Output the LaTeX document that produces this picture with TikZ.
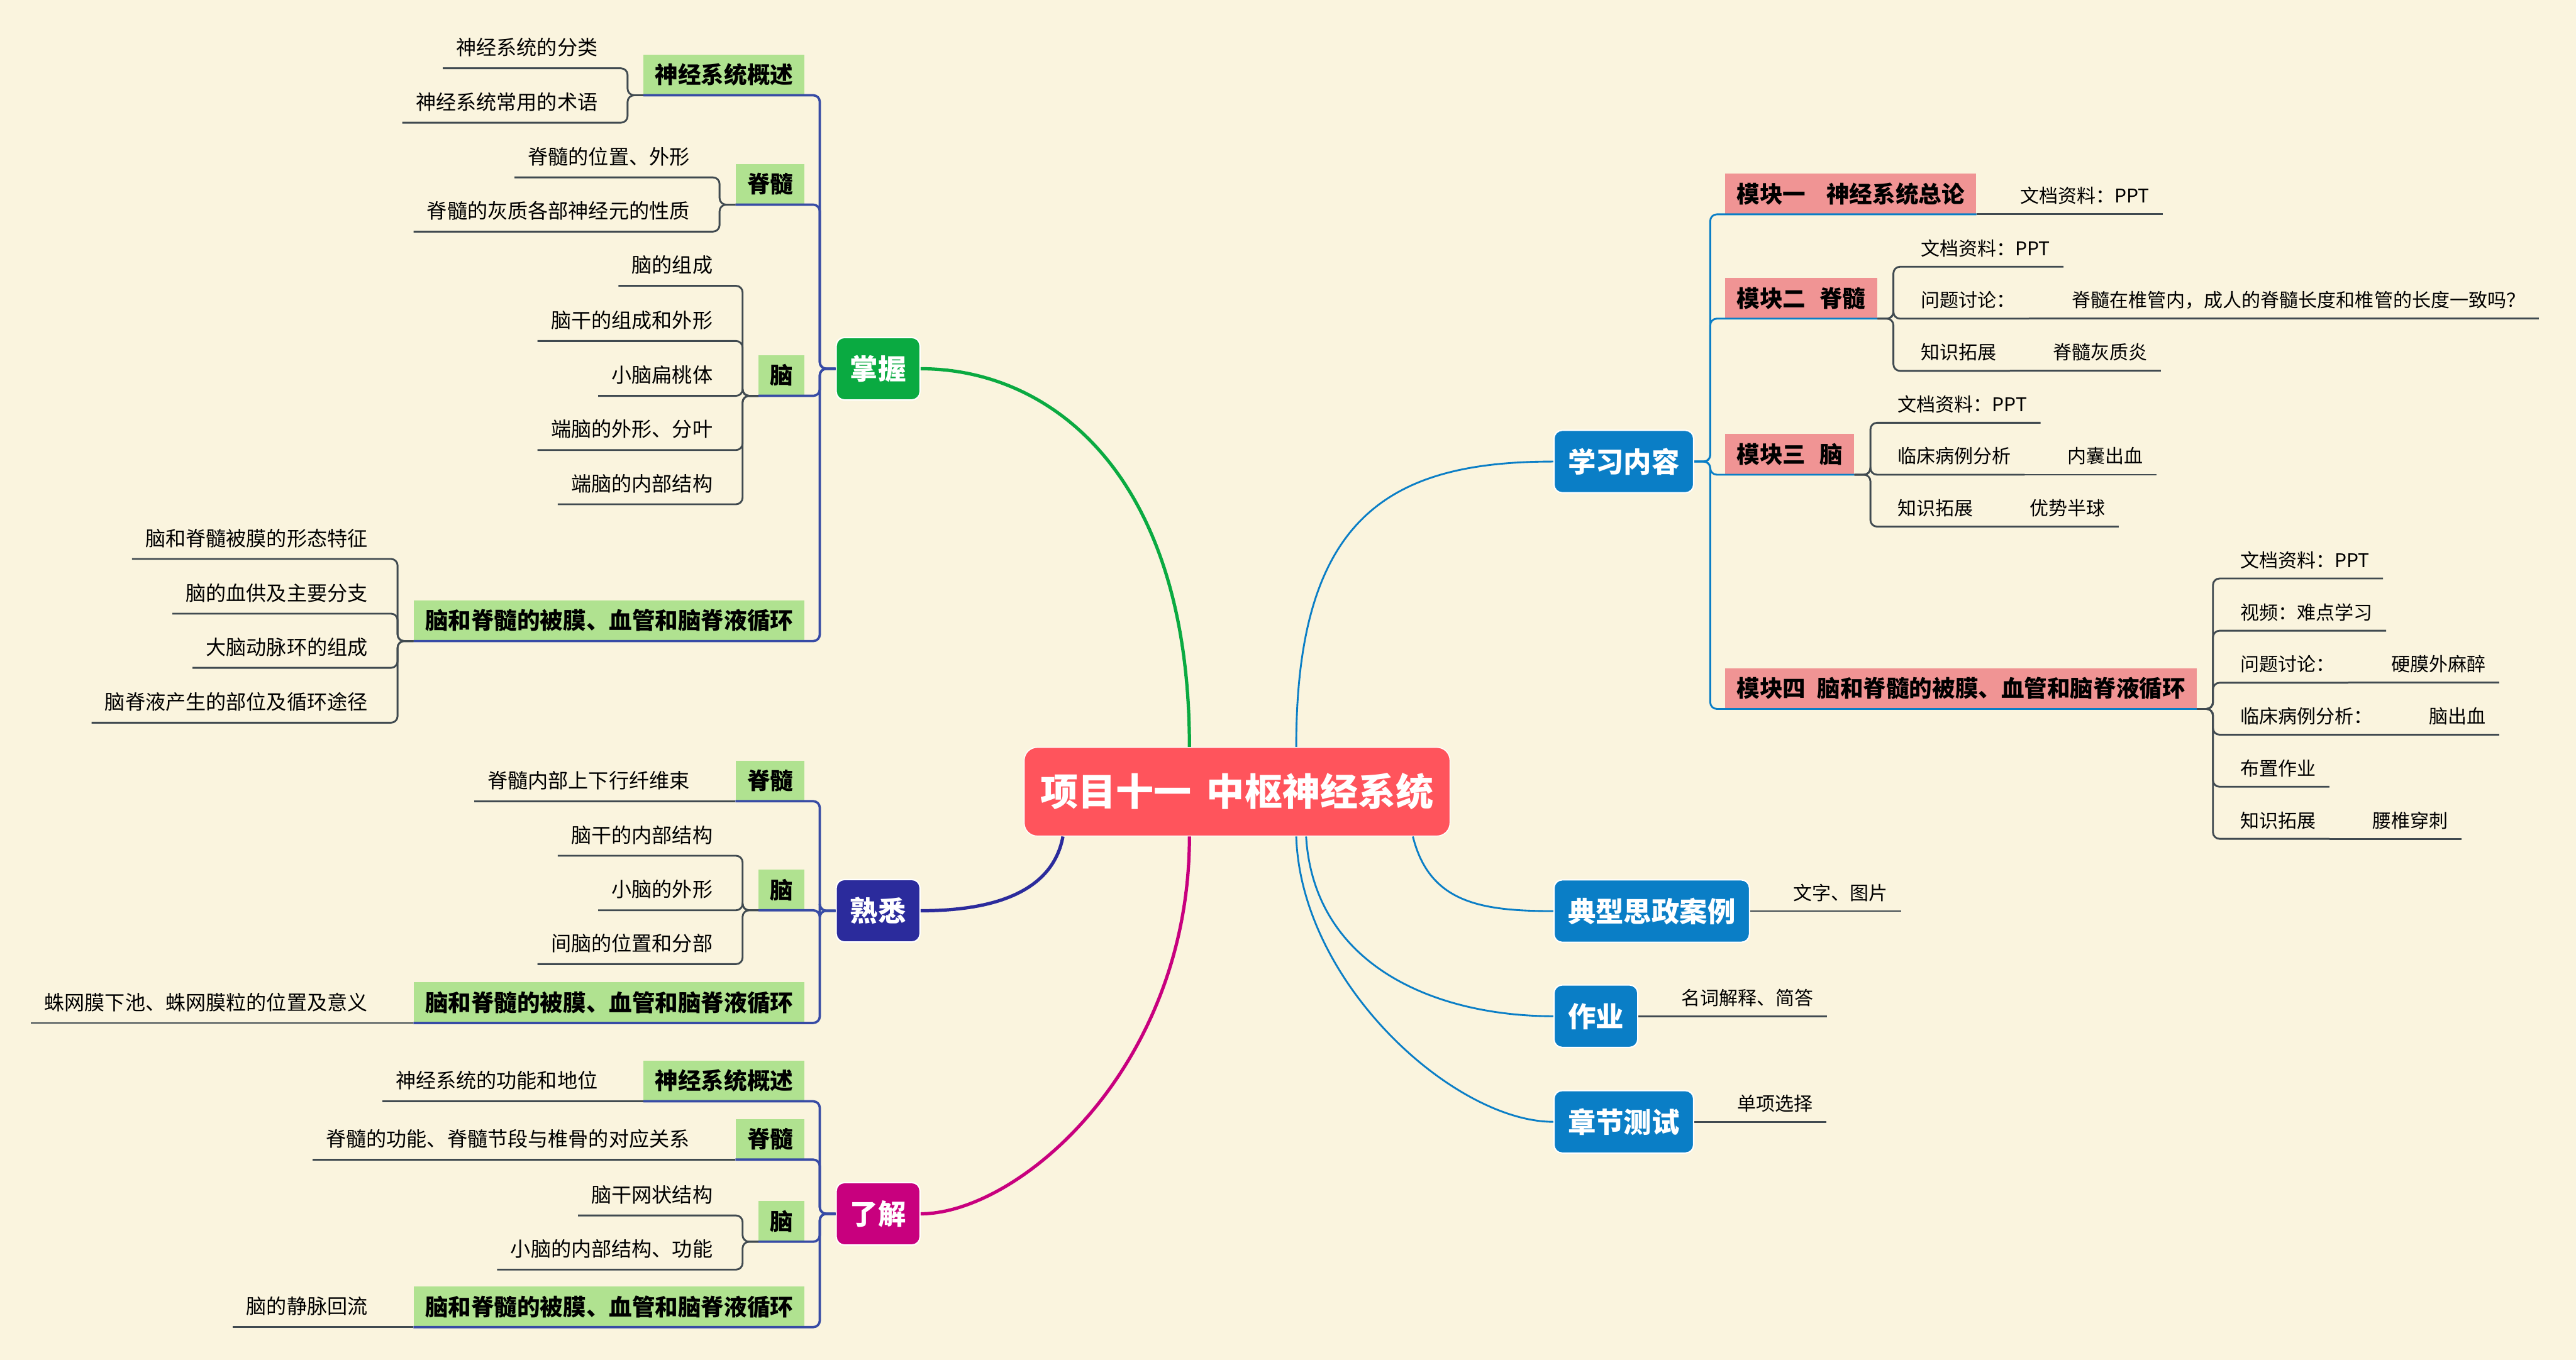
\documentclass[tikz,border=0pt]{standalone}
\usepackage{fontspec}
\setmainfont{Noto Sans CJK SC}
\usepackage{xcolor}
\usepackage{tikz}
\usetikzlibrary{calc}

\definecolor{bgcream}{HTML}{FAF4DE}
\definecolor{rootred}{HTML}{FF545C}
\definecolor{zwgreen}{HTML}{0AAA41}
\definecolor{sxnavy}{HTML}{2B2B9C}
\definecolor{ljmag}{HTML}{C8007E}
\definecolor{topblue}{HTML}{0A7EC6}
\definecolor{subgreen}{HTML}{B0E290}
\definecolor{modpink}{HTML}{F09494}
\definecolor{brblue}{HTML}{374BA5}
\definecolor{leafgray}{HTML}{404A50}

\begin{document}
\begin{tikzpicture}[x=1pt, y=-1pt,
    rootbox/.style={rectangle, rounded corners=8pt, fill=rootred, draw=white, line width=0.6pt,
        text=white, font=\fontsize{23}{26}\selectfont\bfseries,
        inner xsep=10pt, inner ysep=0pt, minimum height=54pt, text height=20.2pt, text depth=2.8pt},
    mainbox/.style={rectangle, rounded corners=5pt, draw=white, line width=0.8pt, text=white,
        font=\fontsize{17}{20}\selectfont\bfseries, inner xsep=8.5pt, inner ysep=0pt,
        minimum height=38pt, text height=15pt, text depth=2pt},
    subbox/.style={rectangle, fill=subgreen, font=\fontsize{14}{16}\selectfont\bfseries,
        inner xsep=7pt, inner ysep=0pt, minimum height=24.5pt, text height=12.3pt, text depth=1.7pt,
        anchor=south east},
    modbox/.style={subbox, fill=modpink, anchor=south west},
    lleaf/.style={font=\fontsize{12.3}{14}\selectfont, inner xsep=8pt, inner ysep=6.3pt,
        text height=10.8pt, text depth=1.5pt, anchor=south east},
    rleaf/.style={font=\fontsize{11.5}{13}\selectfont, inner xsep=8pt, inner ysep=5.3pt,
        text height=10.1pt, text depth=1.4pt, anchor=south west},
    mapcurve/.style={line width=2pt},
    bluecurve/.style={line width=1.1pt, color=topblue},
    brline/.style={line width=1.4pt, color=brblue, rounded corners=4pt},
    rbrline/.style={line width=1.1pt, color=topblue, rounded corners=4pt},
    leafline/.style={line width=1.1pt, color=leafgray, rounded corners=4pt}
]
    \fill[bgcream] (0,0) rectangle (1568,828);
    \useasboundingbox (0,0) rectangle (1568,828);

    % Centre and first level
    \node[rootbox] (root) at (753,482) {项目十一\hspace{0.4em}中枢神经系统};

    \node[mainbox, fill=zwgreen] (zhangwo) at (534.5,224.5) {掌握};
    \node[mainbox, fill=sxnavy] (shuxi) at (534.5,554.5) {熟悉};
    \node[mainbox, fill=ljmag] (liaojie) at (534.5,739) {了解};
    \node[mainbox, fill=topblue, anchor=west] (xuexi) at (945.5,281) {学习内容};
    \node[mainbox, fill=topblue, anchor=west] (sizheng) at (945.5,554.7) {典型思政案例};
    \node[mainbox, fill=topblue, anchor=west] (zuoye) at (945.5,618.7) {作业};
    \node[mainbox, fill=topblue, anchor=west] (ceshi) at (945.5,683) {章节测试};

    \draw[mapcurve, zwgreen] ([xshift=-29pt]root.north) .. controls +(0,-165) and +(80,0) .. (zhangwo.east);
    \draw[mapcurve, sxnavy] ([xshift=-106pt]root.south) .. controls +(-6,32) and +(48,0) .. (shuxi.east);
    \draw[mapcurve, ljmag] ([xshift=-29pt]root.south) .. controls +(0,140) and +(60,0) .. (liaojie.east);
    \draw[bluecurve] ([xshift=36pt]root.north) .. controls +(0,-140) and +(-100,0) .. (xuexi.west);
    \draw[bluecurve] ([xshift=107pt]root.south) .. controls +(10,40) and +(-45,0) .. (sizheng.west);
    \draw[bluecurve] ([xshift=42pt]root.south) .. controls +(5,80) and +(-70,0) .. (zuoye.west);
    \draw[bluecurve] ([xshift=36pt]root.south) .. controls +(3,90) and +(-60,0) .. (ceshi.west);

    % 掌握
    \node[subbox] (zw-gs) at (490,58) {神经系统概述};
    \node[subbox] (zw-jz) at (490,124.6) {脊髓};
    \node[subbox] (zw-n) at (490,241) {脑};
    \node[subbox] (zw-bm) at (490,390.3) {脑和脊髓的被膜、血管和脑脊液循环};
    \foreach \p in {zw-gs,zw-jz,zw-n,zw-bm}
        \draw[brline] (zhangwo.west) -| ([xshift=9pt]\p.south east) -- (\p.south west);

    \foreach \t/\y [count=\i] in {神经系统的分类/41.6, 神经系统常用的术语/74.7}{
        \node[lleaf] (zw-gs\i) at (372,\y) {\t};
        \draw[leafline] (zw-gs.south west) -| ([xshift=10pt]zw-gs\i.south east) -- (zw-gs\i.south west);
    }
    \foreach \t/\y [count=\i] in {脊髓的位置、外形/108, 脊髓的灰质各部神经元的性质/141}{
        \node[lleaf] (zw-jz\i) at (428,\y) {\t};
        \draw[leafline] (zw-jz.south west) -| ([xshift=10pt]zw-jz\i.south east) -- (zw-jz\i.south west);
    }
    \foreach \t/\y [count=\i] in {脑的组成/174, 脑干的组成和外形/207.6, 小脑扁桃体/241,
                                 端脑的外形、分叶/274, 端脑的内部结构/307}{
        \node[lleaf] (zw-n\i) at (442,\y) {\t};
        \draw[leafline] (zw-n.south west) -| ([xshift=10pt]zw-n\i.south east) -- (zw-n\i.south west);
    }
    \foreach \t/\y [count=\i] in {脑和脊髓被膜的形态特征/340.3, 脑的血供及主要分支/373.6,
                                 大脑动脉环的组成/406.6, 脑脊液产生的部位及循环途径/440}{
        \node[lleaf] (zw-bm\i) at (232,\y) {\t};
        \draw[leafline] (zw-bm.south west) -| ([xshift=10pt]zw-bm\i.south east) -- (zw-bm\i.south west);
    }

    % 熟悉
    \node[subbox] (sx-jz) at (490,487.8) {脊髓};
    \node[subbox] (sx-n) at (490,554.2) {脑};
    \node[subbox] (sx-bm) at (490,622.8) {脑和脊髓的被膜、血管和脑脊液循环};
    \foreach \p in {sx-jz,sx-n,sx-bm}
        \draw[brline] (shuxi.west) -| ([xshift=9pt]\p.south east) -- (\p.south west);

    \node[lleaf] (sx-jz1) at (428,487.8) {脊髓内部上下行纤维束};
    \draw[leafline] (sx-jz.south west) -- (sx-jz1.south west);
    \foreach \t/\y [count=\i] in {脑干的内部结构/521, 小脑的外形/554.2, 间脑的位置和分部/587}{
        \node[lleaf] (sx-n\i) at (442,\y) {\t};
        \draw[leafline] (sx-n.south west) -| ([xshift=10pt]sx-n\i.south east) -- (sx-n\i.south west);
    }
    \node[lleaf] (sx-bm1) at (232,622.8) {蛛网膜下池、蛛网膜粒的位置及意义};
    \draw[leafline] (sx-bm.south west) -- (sx-bm1.south west);

    % 了解
    \node[subbox] (lj-gs) at (490,670.5) {神经系统概述};
    \node[subbox] (lj-jz) at (490,706) {脊髓};
    \node[subbox] (lj-n) at (490,756) {脑};
    \node[subbox] (lj-bm) at (490,808) {脑和脊髓的被膜、血管和脑脊液循环};
    \foreach \p in {lj-gs,lj-jz,lj-n,lj-bm}
        \draw[brline] (liaojie.west) -| ([xshift=9pt]\p.south east) -- (\p.south west);

    \node[lleaf] (lj-gs1) at (372,670.5) {神经系统的功能和地位};
    \draw[leafline] (lj-gs.south west) -- (lj-gs1.south west);
    \node[lleaf] (lj-jz1) at (428,706) {脊髓的功能、脊髓节段与椎骨的对应关系};
    \draw[leafline] (lj-jz.south west) -- (lj-jz1.south west);
    \foreach \t/\y [count=\i] in {脑干网状结构/740, 小脑的内部结构、功能/773}{
        \node[lleaf] (lj-n\i) at (442,\y) {\t};
        \draw[leafline] (lj-n.south west) -| ([xshift=10pt]lj-n\i.south east) -- (lj-n\i.south west);
    }
    \node[lleaf] (lj-bm1) at (232,808) {脑的静脉回流};
    \draw[leafline] (lj-bm.south west) -- (lj-bm1.south west);

    % 学习内容
    \node[modbox] (m1) at (1050,130.5) {模块一\hspace{0.9em}神经系统总论};
    \node[modbox] (m2) at (1050,194) {模块二\hspace{0.6em}脊髓};
    \node[modbox] (m3) at (1050,289) {模块三\hspace{0.6em}脑};
    \node[modbox] (m4) at (1050,431.6) {模块四\hspace{0.5em}脑和脊髓的被膜、血管和脑脊液循环};
    \foreach \m in {m1,m2,m3,m4}
        \draw[rbrline] (xuexi.east) -| ([xshift=-9pt]\m.south west) -- (\m.south east);

    \node[rleaf] (m1-1) at ([xshift=18.5pt]m1.south east) {文档资料：PPT};
    \draw[leafline] (m1.south east) -- (m1-1.south west) -- (m1-1.south east);

    \foreach \t/\y [count=\i] in {文档资料：PPT/162.4, 问题讨论：/194, 知识拓展/225.8}{
        \node[rleaf] (m2-\i) at (1161,\y) {\t};
        \draw[leafline] (m2.south east) -| ([xshift=-8.5pt]m2-\i.south west) -- (m2-\i.south east);
    }
    \node[rleaf] (m2-2a) at ([xshift=18pt]m2-2.south east) {脊髓在椎管内，成人的脊髓长度和椎管的长度一致吗？};
    \node[rleaf] (m2-3a) at ([xshift=18pt]m2-3.south east) {脊髓灰质炎};
    \foreach \c in {2,3}
        \draw[leafline] (m2-\c.south east) -- (m2-\c a.south west) -- (m2-\c a.south east);

    \foreach \t/\y [count=\i] in {文档资料：PPT/257.4, 临床病例分析/289, 知识拓展/320.6}{
        \node[rleaf] (m3-\i) at (1147,\y) {\t};
        \draw[leafline] (m3.south east) -| ([xshift=-8.5pt]m3-\i.south west) -- (m3-\i.south east);
    }
    \node[rleaf] (m3-2a) at ([xshift=18pt]m3-2.south east) {内囊出血};
    \node[rleaf] (m3-3a) at ([xshift=18pt]m3-3.south east) {优势半球};
    \foreach \c in {2,3}
        \draw[leafline] (m3-\c.south east) -- (m3-\c a.south west) -- (m3-\c a.south east);

    \foreach \t/\y [count=\i] in {文档资料：PPT/352.2, 视频：难点学习/384, 问题讨论：/415.7,
                                 临床病例分析：/447.3, 布置作业\hspace{49pt}/479, 知识拓展/510.7}{
        \node[rleaf] (m4-\i) at (1355.5,\y) {\t};
        \draw[leafline] (m4.south east) -| ([xshift=-8.5pt]m4-\i.south west) -- (m4-\i.south east);
    }
    \node[rleaf] (m4-3a) at ([xshift=18pt]m4-3.south east) {硬膜外麻醉};
    \node[rleaf] (m4-4a) at ([xshift=18pt]m4-4.south east) {脑出血};
    \node[rleaf] (m4-6a) at ([xshift=18pt]m4-6.south east) {腰椎穿刺};
    \foreach \c in {3,4,6}
        \draw[leafline] (m4-\c.south east) -- (m4-\c a.south west) -- (m4-\c a.south east);

    % Other topics
    \node[rleaf] (sizheng-1) at ([xshift=18pt]sizheng.east) {文字、图片};
    \node[rleaf] (zuoye-1) at ([xshift=18pt]zuoye.east) {名词解释、简答};
    \node[rleaf] (ceshi-1) at ([xshift=18pt]ceshi.east) {单项选择};
    \foreach \p in {sizheng,zuoye,ceshi}
        \draw[leafline] (\p.east) -- (\p-1.south west) -- (\p-1.south east);
\end{tikzpicture}
\end{document}
